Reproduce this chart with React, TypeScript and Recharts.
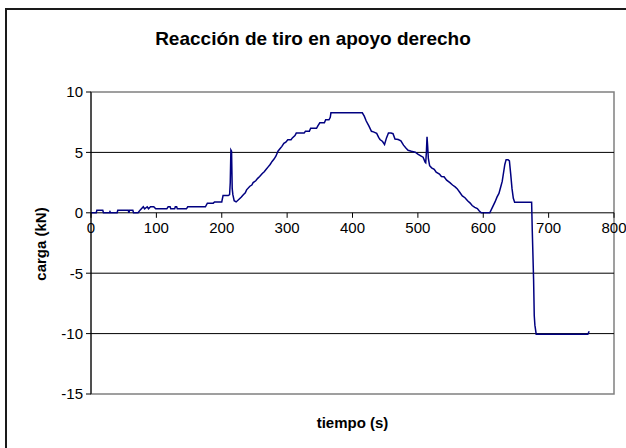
import React from 'react'
import {
  LineChart,
  Line,
  XAxis,
  YAxis,
  ReferenceLine,
  ReferenceArea,
} from 'recharts'

// tiempo (s) / carga (kN)
const tiempo = [
  0, 8, 9, 18, 19, 28, 29, 30, 40, 41, 57, 58, 59, 64, 65, 72, 75, 80, 82, 86,
  88, 91, 96, 99, 116, 118, 121, 122, 128, 129, 131, 132, 146, 148, 175, 178,
  187, 189, 200, 202, 210, 212, 213, 214, 215, 216, 217, 219, 222, 226, 230,
  233, 236, 238, 243, 246, 248, 252, 255, 258, 262, 265, 268, 271, 274, 277,
  280, 283, 286, 289, 292, 295, 298, 301, 306, 308, 312, 314, 326, 328, 334,
  336, 345, 347, 350, 357, 359, 364, 366, 367, 415, 418, 421, 425, 429, 432,
  437, 440, 442, 446, 449, 452, 455, 459, 462, 465, 470, 474, 478, 482, 485,
  490, 496, 500, 505, 508, 511, 512, 513, 514, 515, 516, 518, 521, 525, 528,
  533, 536, 540, 544, 549, 553, 557, 560, 564, 568, 572, 576, 580, 583, 587,
  591, 594, 597, 610, 614, 618, 621, 624, 627, 629, 631, 633, 635, 638, 640,
  642, 644, 646, 648, 674, 675, 676, 677, 678, 679, 681, 760, 762,
]
const carga = [
  0, 0, 0.22, 0.22, 0, 0, 0.1, 0, 0, 0.22, 0.22, 0, 0.22, 0.22, 0, 0, 0.22,
  0.5, 0.33, 0.5, 0.33, 0.5, 0.5, 0.33, 0.33, 0.5, 0.5, 0.33, 0.33, 0.5, 0.5,
  0.33, 0.33, 0.5, 0.5, 0.8, 0.8, 0.9, 0.9, 1.43, 1.43, 1.5, 2.5, 5.2, 5.1,
  2.0, 1.5, 1.0, 0.9, 1.1, 1.3, 1.5, 1.65, 1.9, 2.2, 2.3, 2.5, 2.65, 2.85, 3.0,
  3.25, 3.4, 3.6, 3.8, 4.0, 4.25, 4.45, 4.7, 5.1, 5.3, 5.5, 5.75, 5.85, 6.05,
  6.05, 6.2, 6.4, 6.6, 6.6, 6.75, 6.75, 7.0, 7.0, 7.2, 7.45, 7.45, 7.7, 7.7,
  7.9, 8.28, 8.28, 8.0, 7.6, 7.2, 6.75, 6.7, 6.57, 6.25, 6.07, 5.9, 5.65, 6.2,
  6.6, 6.6, 6.55, 6.1, 6.07, 5.95, 5.6, 5.35, 5.18, 5.1, 5.02, 4.85, 4.7, 4.6,
  4.2, 4.14, 5.0, 6.3, 5.5, 4.5, 3.9, 3.72, 3.6, 3.36, 3.2, 3.0, 2.98, 2.7,
  2.5, 2.3, 2.15, 2.0, 1.7, 1.4, 1.25, 1.0, 0.8, 0.6, 0.45, 0.35, 0.15, 0, 0,
  0.45, 0.9, 1.3, 1.6, 2.2, 2.6, 3.3, 4.0, 4.4, 4.4, 4.3, 3.2, 2.0, 1.2, 0.88,
  0.88, -1.5, -3.5, -5.5, -8.5, -9.3, -10.05, -10.05, -9.8,
]

const xTicks = [0, 100, 200, 300, 400, 500, 600, 700, 800]
const yTicks = [-15, -10, -5, 0, 5, 10]
const gridValues = [5, 0, -5, -10]

const data = tiempo.map((t, i) => ({ t, v: carga[i] }))

const FONT = '"Liberation Sans", Arial, sans-serif'
const PLOT_TOP = 92
const PLOT_H = 302
const Y_MIN = -15
const Y_MAX = 10
const zeroY = PLOT_TOP + (PLOT_H * Y_MAX) / (Y_MAX - Y_MIN)

// x ticks sit on the zero line, like the Excel original
function ZeroTick(props: any) {
  const { x, payload } = props
  return (
    <g>
      <line x1={x} y1={zeroY} x2={x} y2={zeroY + 5} stroke="#000" />
      <text
        x={x}
        y={zeroY + 20}
        textAnchor="middle"
        fontSize={15}
        fontFamily={FONT}
        fill="#000"
      >
        {payload.value}
      </text>
    </g>
  )
}

export default function App() {
  return (
    <div
      style={{
        position: 'fixed',
        left: 0,
        top: 0,
        width: 626,
        height: 448,
        overflow: 'hidden',
        background: '#fff',
        fontFamily: FONT,
      }}
    >
      <div
        style={{
          position: 'absolute',
          left: 5,
          top: 8,
          width: 660,
          height: 480,
          border: '2px solid #1a1a1a',
        }}
      />
      <div
        style={{
          position: 'absolute',
          left: 0,
          width: 626,
          top: 28,
          textAlign: 'center',
          fontWeight: 'bold',
          fontSize: 19,
        }}
      >
        Reacción de tiro en apoyo derecho
      </div>
      <div
        style={{
          position: 'absolute',
          left: 91,
          width: 523,
          top: 414,
          textAlign: 'center',
          fontWeight: 'bold',
          fontSize: 15,
        }}
      >
        tiempo (s)
      </div>
      <div
        style={{
          position: 'absolute',
          left: 40,
          top: 244,
          transform: 'translate(-50%, -50%) rotate(-90deg)',
          whiteSpace: 'nowrap',
          fontWeight: 'bold',
          fontSize: 15,
        }}
      >
        carga (kN)
      </div>
      <div style={{ position: 'absolute', left: 0, top: 0 }}>
        <LineChart
          width={626}
          height={448}
          data={data}
          margin={{ top: PLOT_TOP, right: 12, bottom: 0, left: 31 }}
        >
          <ReferenceArea
            x1={0}
            x2={800}
            y1={Y_MIN}
            y2={Y_MAX}
            fill="none"
            stroke="#808080"
            strokeWidth={1.5}
          />
          {gridValues.map((g) => (
            <ReferenceLine key={g} y={g} stroke="#000" strokeWidth={1} />
          ))}
          <XAxis
            dataKey="t"
            type="number"
            domain={[0, 800]}
            ticks={xTicks}
            interval={0}
            height={54}
            axisLine={false}
            tickLine={false}
            tick={<ZeroTick />}
          />
          <YAxis
            type="number"
            domain={[Y_MIN, Y_MAX]}
            ticks={yTicks}
            interval={0}
            width={60}
            axisLine={{ stroke: '#000' }}
            tickLine={{ stroke: '#000' }}
            tickSize={5}
            tickMargin={3}
            tick={{ fontSize: 15, fontFamily: FONT, fill: '#000' }}
          />
          <Line
            type="linear"
            dataKey="v"
            stroke="#000080"
            strokeWidth={1.5}
            dot={false}
            isAnimationActive={false}
          />
        </LineChart>
      </div>
    </div>
  )
}
